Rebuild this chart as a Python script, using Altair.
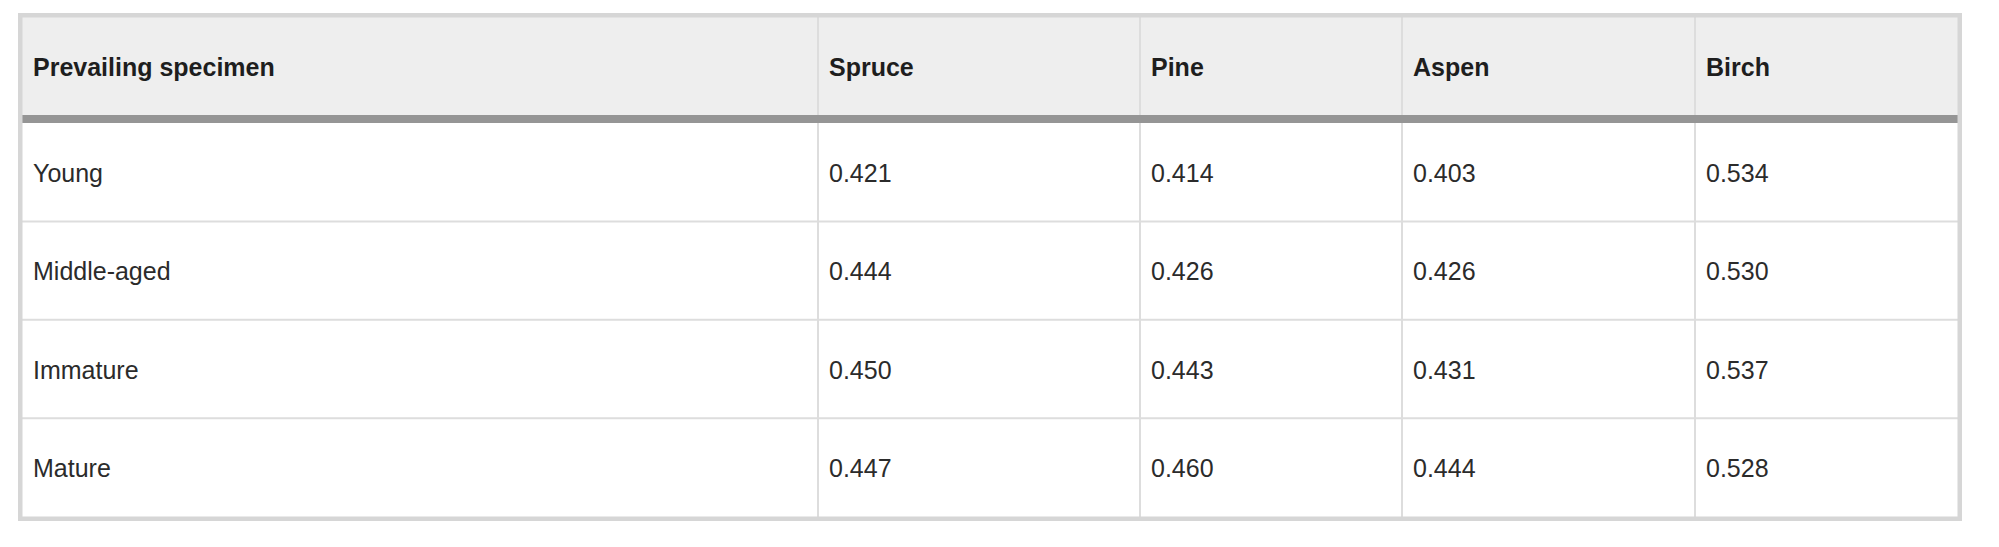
import altair as alt
import pandas as pd

# ---- data ----
header_label = "Prevailing specimen"
species = ["Spruce", "Pine", "Aspen", "Birch"]
ages = ["Young", "Middle-aged", "Immature", "Mature"]
spruce = ["0.421", "0.444", "0.450", "0.447"]
pine = ["0.414", "0.426", "0.443", "0.460"]
aspen = ["0.403", "0.426", "0.431", "0.444"]
birch = ["0.534", "0.530", "0.537", "0.528"]

# ---- layout (table geometry) ----
COL_W = [800, 322, 262, 293, 267]
TABLE_W = sum(COL_W)
HEADER_H = 102
BAR_H = 8
ROW_H = 98.4
TABLE_H = 508
BORDER = 4.5
PAD_FIRST = 15
PAD_OTHER = 11
TEXT_DY = 1.5
FONT = "Liberation Sans"
FS = 25

col_left = [sum(COL_W[:i]) for i in range(len(COL_W))]
body_top = HEADER_H + BAR_H

columns = [ages, spruce, pine, aspen, birch]
header = [header_label] + species

rows = []
for c, h in enumerate(header):
    pad = PAD_FIRST if c == 0 else PAD_OTHER
    rows.append({"x": col_left[c] + pad, "y": HEADER_H / 2 + 2 + TEXT_DY, "t": h, "kind": "head"})
for r in range(len(ages)):
    for c, col in enumerate(columns):
        pad = PAD_FIRST if c == 0 else PAD_OTHER
        rows.append({"x": col_left[c] + pad, "y": body_top + ROW_H * (r + 0.5) + TEXT_DY,
                     "t": col[r], "kind": "body"})
cells = pd.DataFrame(rows)

vlines = pd.DataFrame({"x": col_left[1:], "y": [0] * (len(COL_W) - 1),
                       "y2": [TABLE_H] * (len(COL_W) - 1)})
hlines = pd.DataFrame({"y": [body_top + ROW_H * k for k in range(1, len(ages))]})
hlines["x"] = 0
hlines["x2"] = TABLE_W

header_bg = pd.DataFrame({"x": [0], "x2": [TABLE_W], "y": [0], "y2": [HEADER_H]})
bar = pd.DataFrame({"x": [0], "x2": [TABLE_W], "y": [HEADER_H], "y2": [body_top]})
frame = pd.DataFrame({"x": [BORDER / 2], "x2": [TABLE_W - BORDER / 2],
                      "y": [BORDER / 2], "y2": [TABLE_H - BORDER / 2]})

xs = alt.Scale(domain=[0, TABLE_W], nice=False, zero=False)
ys = alt.Scale(domain=[0, TABLE_H], nice=False, zero=False, reverse=True)
X = lambda f: alt.X(f, type="quantitative", scale=xs, axis=None)
Y = lambda f: alt.Y(f, type="quantitative", scale=ys, axis=None)

bg = alt.Chart(header_bg).mark_rect(color="#eeeeee").encode(
    x=X("x"), x2="x2", y=Y("y"), y2="y2")

vl = alt.Chart(vlines).mark_rule(color="#dddddd", strokeWidth=2).encode(
    x=X("x"), y=Y("y"), y2="y2")

hl = alt.Chart(hlines).mark_rule(color="#dddddd", strokeWidth=2).encode(
    x=X("x"), x2="x2", y=Y("y"))

br = alt.Chart(bar).mark_rect(color="#959595").encode(
    x=X("x"), x2="x2", y=Y("y"), y2="y2")

fr = alt.Chart(frame).mark_rect(fillOpacity=0, stroke="#d6d6d6", strokeWidth=BORDER).encode(
    x=X("x"), x2="x2", y=Y("y"), y2="y2")

head_txt = alt.Chart(cells[cells.kind == "head"]).mark_text(
    align="left", baseline="middle", font=FONT, fontSize=FS, fontWeight="bold",
    color="#1e1e1e").encode(x=X("x"), y=Y("y"), text="t:N")

body_txt = alt.Chart(cells[cells.kind == "body"]).mark_text(
    align="left", baseline="middle", font=FONT, fontSize=FS,
    color="#2b2b2b").encode(x=X("x"), y=Y("y"), text="t:N")

chart = alt.layer(bg, vl, hl, br, fr, head_txt, body_txt).properties(
    width=TABLE_W, height=TABLE_H,
    autosize=alt.AutoSizeParams(type="none"),
    padding={"left": 10, "top": 5, "right": 0, "bottom": 0},
    background="white",
).configure_view(stroke=None)

chart.save("out.html", embed_options={"renderer": "svg", "actions": False})
